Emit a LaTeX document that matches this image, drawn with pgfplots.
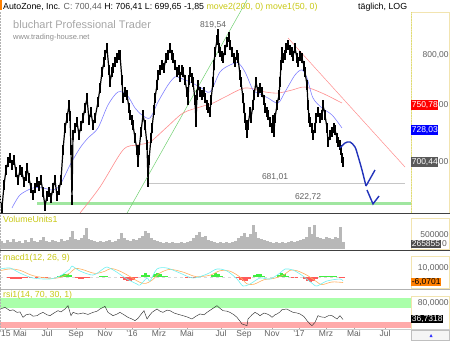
\documentclass[border=0pt]{standalone}
\usepackage{pgfplots}
\pgfplotsset{compat=1.18}
\usepackage{fontspec}
\setmainfont{Liberation Sans}
\definecolor{yel}{HTML}{C8C814}
\definecolor{maBlue}{HTML}{8080FF}
\definecolor{maRed}{HTML}{FF8C8C}
\definecolor{trGreen}{HTML}{70D070}
\definecolor{supGreen}{HTML}{A0E6A0}
\definecolor{projBlue}{HTML}{2233BB}
\definecolor{volGray}{HTML}{B8B8B8}
\definecolor{txtGray}{HTML}{606060}
\definecolor{boxYel}{HTML}{F2E4B0}
\definecolor{macdCyan}{HTML}{70F0F0}
\definecolor{macdOrange}{HTML}{FFB060}
\definecolor{histGreen}{HTML}{40EE40}
\definecolor{histRed}{HTML}{FF5A5A}
\definecolor{rsiGreen}{HTML}{AAFFAA}
\definecolor{rsiRed}{HTML}{FFAAAA}

\pgfplotstableread{
x p
0 665.1
2 657.6
4 679.0
6 693.0
8 700.4
10 704.2
12 697.6
14 702.3
16 691.1
18 683.7
20 693.0
22 691.1
24 681.8
26 687.4
27 694.9
29 685.6
31 676.2
33 669.7
35 676.2
37 681.8
39 678.1
41 683.7
43 672.5
45 659.5
47 668.8
49 672.5
51 667.0
53 676.2
55 683.7
57 668.8
59 674.4
61 683.7
63 711.6
65 732.1
67 741.4
69 753.5
70 743.2
71 711.6
72 665.1
73 725.6
75 732.1
77 737.6
79 725.6
81 733.9
83 741.4
85 750.7
87 760.0
89 739.5
91 747.0
93 734.9
95 741.4
98 756.3
100 769.3
102 784.2
104 793.5
105 800.0
107 806.5
109 786.1
110 774.9
112 784.2
113 787.9
115 793.5
117 797.2
119 800.0
120 800.0
122 776.7
123 760.0
125 765.6
127 762.8
129 750.7
130 744.2
132 739.5
133 734.9
135 722.8
137 711.6
138 700.4
139 711.6
141 728.4
143 744.2
145 734.9
147 716.3
148 681.5
149 702.3
151 722.8
152 732.1
154 748.8
155 760.0
157 772.1
158 781.4
160 786.1
162 790.7
164 787.9
166 797.2
168 800.0
170 806.5
172 800.0
173 797.2
175 790.7
177 784.2
179 786.1
180 779.5
182 786.1
183 784.2
185 776.7
187 765.6
188 758.1
189 776.7
190 784.2
192 778.6
193 774.9
195 758.1
196 737.6
197 762.8
198 772.1
200 765.6
202 762.8
204 765.6
205 760.0
207 753.5
208 750.7
210 747.0
211 758.1
213 774.9
214 790.7
215 802.8
217 814.0
218 819.5
219 806.5
220 802.8
222 799.1
223 797.2
225 804.7
227 812.1
229 816.8
230 809.3
232 802.8
234 797.2
235 793.5
237 800.0
238 797.2
240 781.4
241 774.9
243 760.0
244 750.7
245 741.4
246 734.9
247 727.4
248 734.9
250 747.0
251 741.4
253 753.5
254 762.8
256 774.9
258 765.6
260 769.3
262 765.6
264 758.1
265 750.7
267 747.0
268 744.2
270 737.6
272 732.1
273 739.5
274 728.4
275 741.4
277 753.5
279 762.8
280 774.9
281 790.7
282 802.8
283 797.2
285 800.0
286 806.5
288 809.3
290 804.7
292 802.8
293 799.1
295 806.5
297 797.2
298 793.5
300 799.1
302 797.2
304 789.8
305 784.2
307 772.1
308 753.5
309 741.4
310 737.6
312 732.1
313 725.6
315 732.1
316 741.4
318 747.0
320 741.4
322 744.2
323 753.5
325 744.2
327 732.1
328 719.0
330 725.6
332 728.4
334 732.1
335 730.3
337 722.8
338 719.0
340 716.3
341 711.6
342 704.2
343 700.4
}\price

\pgfplotstableread{
x v
1 286
4 214
7 321
10 250
13 357
16 250
19 286
22 214
25 321
28 250
31 393
34 286
37 250
40 321
43 428
46 286
49 250
52 321
55 286
58 250
61 357
64 286
67 321
70 428
72 643
75 357
78 321
81 393
84 500
86 750
88 357
91 321
94 286
97 250
100 286
103 250
106 286
109 321
112 250
115 286
118 357
121 571
124 393
127 321
130 286
133 357
136 321
139 393
142 464
145 643
148 571
151 393
154 321
157 286
160 250
163 214
166 250
169 214
172 250
175 214
178 214
181 250
184 214
187 250
190 286
193 393
196 500
199 607
202 428
205 464
208 321
211 286
214 250
217 214
220 250
223 214
226 250
229 214
232 250
235 286
238 393
241 464
244 571
247 428
250 536
253 857
255 607
258 393
261 357
264 321
267 286
270 250
273 214
276 250
279 214
282 250
285 214
288 250
291 286
294 250
297 286
300 321
303 357
306 428
309 785
312 536
314 857
317 428
320 393
323 357
326 428
329 393
332 357
335 428
338 393
340 785
343 266
}\voldata

\begin{document}
\begin{tikzpicture}
\useasboundingbox (0pt,0pt) rectangle (450pt,341pt);

% ---------------- main price panel ----------------
\begin{axis}[at={(0pt,128pt)}, anchor=south west, scale only axis,
  width=411pt, height=201pt, xmin=0, xmax=411, ymin=653, ymax=840,
  axis line style={draw=none}, ticks=none, clip=false]
  \addplot[supGreen, line width=3pt] coordinates {(37,661.4) (411,661.4)};
  \addplot[gray!45, line width=0.6pt] coordinates {(148,681.0) (405,681.0)};
  \addplot[trGreen, line width=0.5pt] coordinates {(127.1,653) (247,851.2)};
  \addplot[maRed, line width=0.5pt] coordinates {(288,815.8) (405,695.8)};
  \addplot[maRed, line width=0.6pt, smooth] coordinates {
    (80,653.0) (100,677.2) (123,711.6) (137,716.3) (150,719.1) (167,733.0)
    (183,746.0) (200,751.6) (213,755.3) (225,760.9) (245,769.3) (265,765.6)
    (278,764.6) (292,767.4) (305,770.2) (322,764.6) (342,755.3)};
  \addplot[maBlue, line width=0.6pt, smooth] coordinates {
    (12,657.7) (20,669.8) (33,676.3) (43,676.3) (53,674.4) (60,679.0)
    (70,697.6) (80,713.5) (88,722.8) (98,732.1) (108,753.5) (118,765.6)
    (127,762.8) (135,750.7) (142,744.2) (150,741.4) (158,756.3) (168,772.1)
    (175,779.6) (180,778.6) (190,774.9) (200,770.2) (210,765.6) (220,784.2)
    (230,790.7) (238,792.6) (245,784.2) (253,767.4) (258,764.6) (268,760.0)
    (278,755.3) (285,765.6) (295,781.4) (302,786.1) (307,778.6) (313,760.0)
    (322,750.7) (332,744.2) (342,732.1)};
  \addplot[black, line width=1.2pt,
    error bars/.cd, y dir=both, y fixed=4.5, error mark=none,
    error bar style={line width=1.1pt, black}] table[x=x, y=p] {\price};
  \addplot[projBlue, line width=1.4pt, smooth] coordinates {
    (340,713.5) (345,718.1) (350,719.1) (355,714.4) (358,706.0) (362,693.0) (366,678.1)};
  \addplot[projBlue, line width=1.4pt] coordinates {(366,678.1) (375,693.0)};
  \addplot[projBlue, line width=1.4pt] coordinates {(367,674.4) (373,661.4) (379,668.8)};
\end{axis}

% ---------------- volume panel ----------------
\begin{axis}[at={(0pt,92pt)}, anchor=south west, scale only axis,
  width=411pt, height=26pt, xmin=0, xmax=411, ymin=0, ymax=928,
  axis line style={draw=none}, ticks=none, clip=true]
  \addplot[ycomb, volGray, line width=3pt] table[x=x, y=v] {\voldata};
\end{axis}

% ---------------- MACD panel ----------------
\begin{axis}[at={(0pt,53pt)}, anchor=south west, scale only axis,
  width=411pt, height=26pt, xmin=0, xmax=411, ymin=-12.2, ymax=16.7,
  axis line style={draw=none}, ticks=none, clip=true]
  \addplot[gray!30, line width=0.4pt, dashed] coordinates {(0,0) (343,0)};
  \addplot[ycomb, histGreen, line width=3pt] coordinates {
    (58,1) (61,2) (64,3) (67,3) (70,2) (100,1) (103,1.5) (106,1)
    (142,2) (145,4) (148,2) (154,3) (157,4.5) (160,3) (163,1.5) (166,1)
    (212,2) (215,4) (218,3.5) (221,1.5) (254,2) (257,3.5) (260,3) (263,1.5)
    (278,2) (281,4) (284,3.5) (287,1.5) (320,1) (323,1.5) (326,1.5) (329,1) (332,0.8) (335,0.8)};
  \addplot[ycomb, histRed, line width=3pt] coordinates {
    (8,-1) (11,-2) (14,-2.5) (17,-2.5) (20,-2) (23,-1.5) (26,-1) (30,-0.8) (36,-0.8) (42,-1) (46,-0.8)
    (76,-1) (79,-2) (82,-2) (85,-1.5) (88,-1) (121,-1.5) (124,-3) (127,-4) (130,-4) (133,-3) (136,-1.5)
    (186,-1) (190,-1) (194,-0.8) (237,-1.5) (240,-3.5) (243,-4.5) (246,-4) (249,-2)
    (292,-0.8) (296,-1) (304,-2) (307,-4) (310,-5) (313,-4.5) (316,-2.5) (340,-1) (343,-1.5)};
  \addplot[macdOrange, line width=0.6pt, smooth] coordinates {
    (0,7.0) (10,9.0) (20,7.5) (33,1.5) (50,-1.5) (60,-0.5) (70,4.5) (75,9.5) (82,8.5)
    (95,4.0) (105,6.5) (111,9.5) (120,6.5) (130,0.5) (140,-6.0) (146,-7.0) (152,-3.5)
    (160,4.5) (170,8.5) (183,5.5) (196,0.5) (210,2.0) (220,7.0) (230,6.5) (240,0.0)
    (247,-7.5) (254,-8.0) (264,-3.0) (274,-1.5) (284,2.5) (290,7.5) (297,7.0) (307,2.0)
    (317,-5.5) (322,-8.5) (332,-5.5) (343,-6.1)};
  \addplot[macdCyan, line width=0.6pt, smooth] coordinates {
    (0,8.9) (10,10.0) (20,4.4) (33,-1.1) (50,-2.2) (60,1.1) (70,8.9) (72,12.2) (80,6.7)
    (93,2.2) (103,8.9) (107,11.1) (115,6.7) (127,-2.2) (137,-7.8) (140,-8.9) (147,-1.1)
    (150,-4.4) (157,8.9) (167,10.0) (180,4.4) (193,-1.1) (207,3.3) (217,8.9) (227,6.7)
    (237,-2.2) (243,-10.0) (250,-7.8) (260,-1.1) (270,-2.2) (280,4.4) (285,8.9) (293,7.8)
    (303,1.1) (313,-7.8) (317,-10.0) (327,-4.4) (340,-2.2) (343,-4.4)};
\end{axis}

% ---------------- RSI panel ----------------
\begin{axis}[at={(0pt,12pt)}, anchor=south west, scale only axis,
  width=411pt, height=32pt, xmin=0, xmax=411, ymin=10, ymax=100,
  axis line style={draw=none}, ytick=\empty, xtick pos=bottom,
  xtick={5,20,47,76,105,132,159,187,221,244,272,299,326,354,385},
  xticklabels={'15,Mai,Jul,Sep,Nov,'16,Mrz,Mai,Jul,Sep,Nov,'17,Mrz,Mai,Jul},
  major tick length=2pt, tick style={gray!70, line width=0.4pt},
  xtick align=inside,
  xticklabel style={font=\fontsize{8.5}{9}\selectfont, text=txtGray, inner sep=1pt},
  clip=true]
  \addplot[fill=rsiGreen, draw=none] coordinates {(0,70) (411,70) (411,97) (0,97)} -- cycle;
  \addplot[fill=rsiRed, draw=none] coordinates {(0,13) (411,13) (411,30) (0,30)} -- cycle;
  \addplot[black!80, line width=0.45pt] coordinates {
    (0,66.3) (5,70.8) (10,61.6) (13,64) (17,56.8) (20,58) (23,42.7) (26,50) (30,52.3) (33,46)
    (37,47.5) (40,53) (43,56.8) (47,50) (50,47.5) (54,55) (58,61.6) (61,58) (65,66.3)
    (68,75.6) (71,47.5) (73,56.8) (78,52) (83,55.1) (88,51) (93,56.8) (97,60) (100,66.3)
    (105,73.7) (108,56.8) (113,47.5) (117,52) (120,56.8) (124,50) (128,42.7) (132,38)
    (135,33.5) (138,40) (140,47.5) (144,61.6) (147,38.2) (150,50) (152,56.8) (157,66.3)
    (160,60) (163,56.8) (167,63) (170,61.6) (174,55) (177,52.3) (183,47.5) (187,44)
    (192,38.2) (196,46) (200,52.3) (204,50) (207,56.8) (212,66.3) (217,75.6) (220,68)
    (223,61.6) (227,60) (230,56.8) (234,50) (237,42.7) (240,32) (242,24.2) (247,19.4)
    (248,38.2) (252,50) (255,56.8) (258,52) (260,47.5) (264,55) (267,52.3) (270,48)
    (272,42.7) (275,50) (277,52.3) (280,58) (282,64.4) (287,66.3) (290,61) (293,56.8)
    (297,55) (300,52.3) (304,45) (307,33.5) (310,24) (312,19.4) (315,28.7) (318,47.5)
    (321,44) (325,42.7) (329,48) (332,47.5) (335,42) (337,38.2) (340,47.5) (343,36.7)};
\end{axis}

\begin{scope}[x=1pt, y=1pt]
% ---------------- frames and separators ----------------
\draw[boxYel, line width=0.5pt] (411,128) rectangle (449.7,329);
\draw[boxYel, line width=0.5pt] (411,92) rectangle (449.7,123);
\draw[boxYel, line width=0.5pt] (411,53) rectangle (449.7,85);
\draw[boxYel, line width=0.5pt] (411,12) rectangle (449.7,45);
\draw[yel!60, densely dotted, line width=0.6pt] (411,128) -- (411,329);
\draw[gray!60, densely dotted, line width=0.5pt] (0.4,12) -- (0.4,329);
\draw[black!75, line width=1pt] (0,128) -- (450,128);
\draw[black!75, line width=1pt] (0,91) -- (450,91);
\draw[gray!60, line width=0.6pt] (0,52) -- (450,52);
\draw[gray!40, line width=0.5pt] (0,11.5) -- (450,11.5);

% ---------------- header ----------------
\fill[orange] (0,331) rectangle (2,341);
\node[anchor=base west, inner sep=0pt, font=\fontsize{8.8}{10}\selectfont] at (3,331.5)
  {AutoZone, Inc. {\color{txtGray}C: 700,44} H: 706,41 L: 699,65 -1,85 {\color{yel}move2(200, 0) move1(50, 0)}};
\node[anchor=base west, inner sep=0pt, font=\fontsize{8.8}{10}\selectfont] at (358,331.5) {täglich, LOG};
\node[anchor=west, inner sep=0pt, text=black!35, font=\fontsize{11}{12}\selectfont] at (13,316) {bluchart Professional Trader};
\node[anchor=west, inner sep=0pt, text=black!45, font=\fontsize{7.5}{8}\selectfont] at (13,303) {www.trading-house.net};

% ---------------- panel titles ----------------
\node[anchor=west, inner sep=0pt, text=yel, font=\fontsize{8.8}{10}\selectfont] at (3,122) {VolumeUnits1};
\node[anchor=west, inner sep=0pt, text=yel, font=\fontsize{8.8}{10}\selectfont] at (3,83) {macd1(12, 26, 9)};
\node[anchor=west, inner sep=0pt, text=yel, font=\fontsize{8.8}{10}\selectfont] at (3,46) {rsi1(14, 70, 30, 1)};

% ---------------- chart annotations ----------------
\node[text=txtGray, inner sep=0pt, font=\fontsize{8.5}{9}\selectfont] at (213,316) {819,54};
\node[text=txtGray, inner sep=0pt, font=\fontsize{8.5}{9}\selectfont] at (275,164) {681,01};
\node[text=txtGray, inner sep=0pt, font=\fontsize{8.5}{9}\selectfont] at (308,144) {622,72};

% ---------------- right scale labels ----------------
\begin{scope}[every node/.style={inner sep=0.6pt, font=\fontsize{8.5}{9}\selectfont}]
\node[anchor=east, text=txtGray] at (449.5,286) {800,00};
\node[anchor=west, fill=red, text=white, minimum height=10pt] (b1) at (411,236) {750,78};
\node[anchor=west, text=txtGray, inner sep=0pt] at (b1.east) {00};
\node[anchor=west, fill=blue, text=white, minimum height=10pt] at (411,211) {728,03};
\node[anchor=west, fill=black!65, text=white, minimum height=10pt] (b3) at (411,179) {700,44};
\node[anchor=west, text=txtGray, inner sep=0pt] at (b3.east) {00};
\node[anchor=east, text=txtGray] at (449.5,106) {500000};
\node[anchor=west, fill=black!70, text=white] (b4) at (411,97) {265855};
\node[anchor=west, text=txtGray, inner sep=0pt] at ([xshift=1pt]b4.east) {0};
\node[anchor=east, text=txtGray] at (449.5,73) {10,0000};
\node[anchor=west, fill=orange, text=black] at (411,59) {-6,0701};
\node[anchor=east, text=txtGray] at (449.5,38) {80,0000};
\node[anchor=west, fill=black, text=white] at (411,22) {36,7318};
\end{scope}

% small button bottom right
\draw[gray!50, fill=gray!8] (411.5,0.5) rectangle (449.5,10.5);
\fill[blue!80] (429.5,4) -- (432.5,4) -- (431,7) -- cycle;
\end{scope}
\end{tikzpicture}
\end{document}
